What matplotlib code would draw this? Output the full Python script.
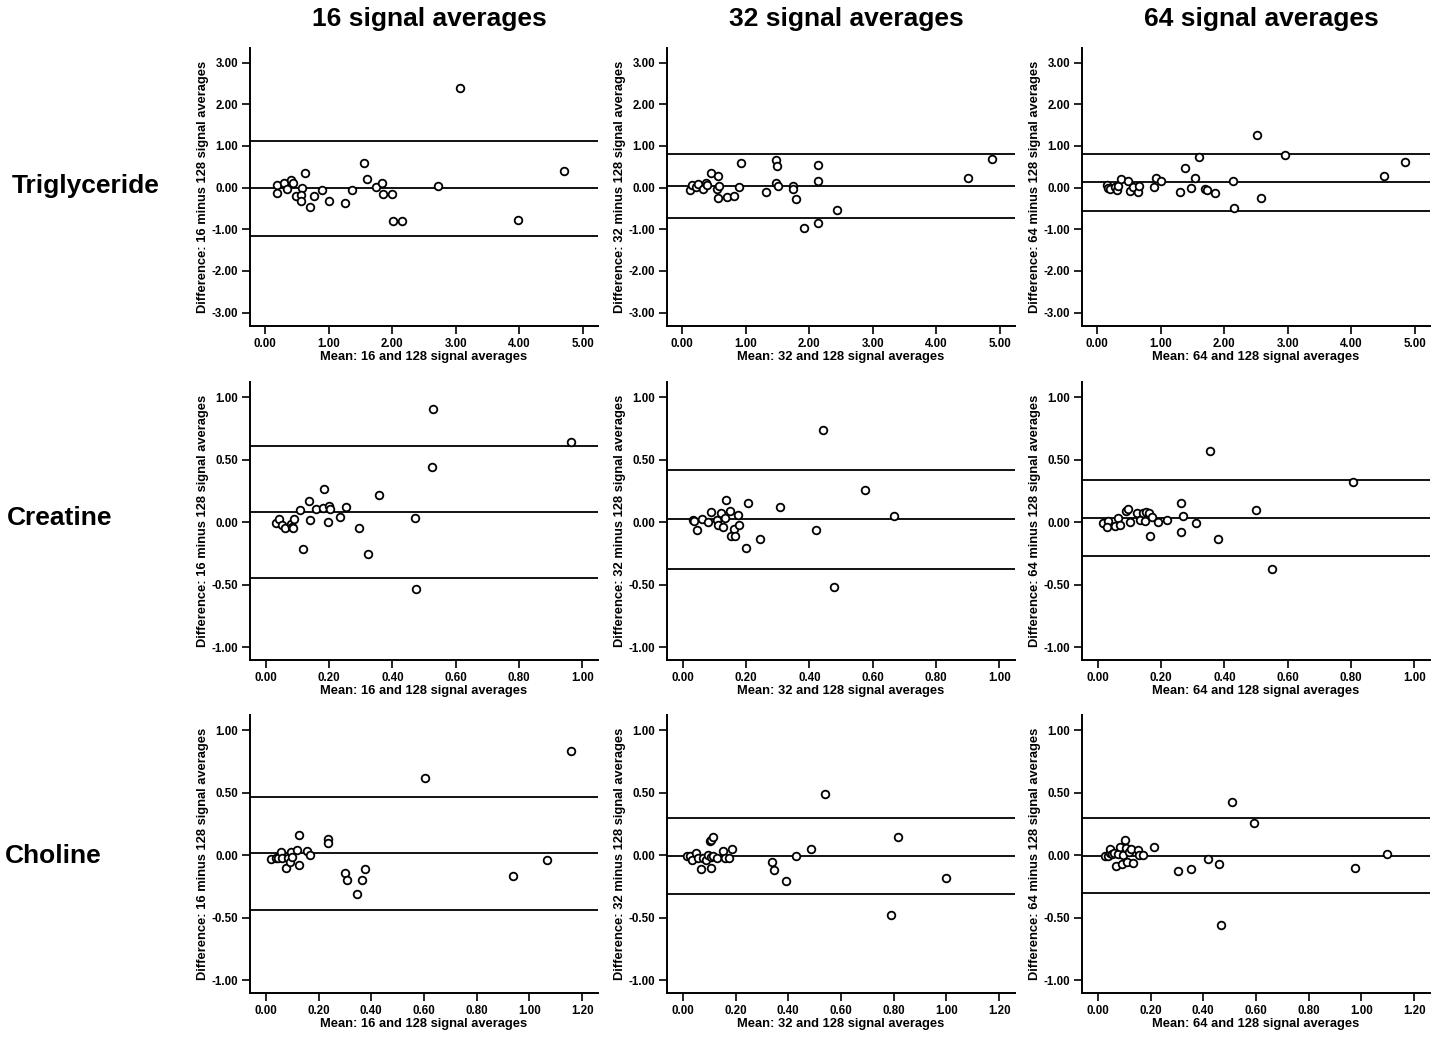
import matplotlib
matplotlib.use("Agg")
import matplotlib.pyplot as plt
from matplotlib.ticker import FormatStrFormatter, MultipleLocator

plt.rcParams['font.family'] = ['Liberation Sans', 'DejaVu Sans']
plt.rcParams['font.weight'] = 'bold'
plt.rcParams['axes.unicode_minus'] = False

metabolites = ['Triglyceride', 'Creatine', 'Choline']
averages = [16, 32, 64]

# Triglyceride
tg16_mean = [0.18, 0.18, 0.30, 0.35, 0.40, 0.43, 0.48, 0.58, 0.57, 0.56, 0.62, 0.71, 0.76, 0.89, 1.01,
             1.26, 1.36, 1.55, 1.61, 1.74, 1.84, 1.86, 2.00, 2.01, 2.16, 2.72, 3.06, 3.98, 4.71]
tg16_diff = [0.06, -0.14, 0.10, -0.04, 0.19, 0.12, -0.21, -0.02, -0.18, -0.32, 0.35, -0.47, -0.19, -0.05, -0.32,
             -0.38, -0.05, 0.59, 0.21, 0.02, 0.12, -0.16, -0.15, -0.79, -0.80, 0.04, 2.38, -0.78, 0.39]
tg16_lines = [1.12, -0.02, -1.15]

tg32_mean = [0.13, 0.15, 0.21, 0.25, 0.32, 0.38, 0.39, 0.45, 0.56, 0.55, 0.58, 0.56, 0.71, 0.81, 0.89, 0.92,
             1.32, 1.47, 1.50, 1.48, 1.51, 1.74, 1.75, 1.79, 1.91, 2.13, 2.14, 2.13, 2.43, 4.50, 4.88]
tg32_diff = [-0.05, 0.06, 0.02, 0.09, -0.03, 0.10, 0.06, 0.34, 0.29, -0.03, 0.05, -0.25, -0.22, -0.21, 0.01, 0.59,
             -0.10, 0.66, 0.52, 0.12, 0.05, 0.05, -0.03, -0.27, -0.98, -0.84, 0.54, 0.17, -0.53, 0.24, 0.68]
tg32_lines = [0.80, 0.04, -0.72]

tg64_mean = [0.16, 0.17, 0.20, 0.28, 0.31, 0.33, 0.38, 0.49, 0.51, 0.56, 0.64, 0.66, 0.89, 0.93, 1.00,
             1.31, 1.38, 1.48, 1.54, 1.61, 1.70, 1.73, 1.86, 2.14, 2.16, 2.51, 2.58, 2.95, 4.52, 4.84]
tg64_diff = [0.07, -0.02, -0.04, 0.02, -0.06, 0.04, 0.20, 0.16, -0.07, 0.02, -0.10, 0.05, 0.01, 0.23, 0.17,
             -0.10, 0.48, -0.01, 0.24, 0.74, -0.03, -0.06, -0.14, 0.17, -0.48, 1.27, -0.24, 0.79, 0.29, 0.61]
tg64_lines = [0.81, 0.135, -0.55]

# Creatine
cr16_mean = [0.032, 0.043, 0.050, 0.061, 0.079, 0.082, 0.087, 0.089, 0.107, 0.117, 0.137, 0.141, 0.160, 0.180,
             0.184, 0.196, 0.199, 0.203, 0.236, 0.255, 0.293, 0.324, 0.359, 0.472, 0.474, 0.525, 0.527, 0.966]
cr16_diff = [-0.007, 0.028, -0.020, -0.046, -0.015, -0.036, -0.049, 0.025, 0.097, -0.216, 0.168, 0.017, 0.102,
             0.113, 0.264, 0.001, 0.126, 0.105, 0.041, 0.121, -0.049, -0.253, 0.216, 0.030, -0.531, 0.441, 0.902, 0.640]
cr16_lines = [0.608, 0.083, -0.444]

cr32_mean = [0.033, 0.035, 0.045, 0.062, 0.080, 0.090, 0.109, 0.112, 0.122, 0.127, 0.134, 0.136, 0.148, 0.152,
             0.162, 0.166, 0.174, 0.179, 0.201, 0.205, 0.245, 0.308, 0.422, 0.444, 0.479, 0.576, 0.669]
cr32_diff = [0.020, 0.007, -0.065, 0.025, 0.004, 0.078, 0.020, -0.025, 0.073, -0.041, 0.036, 0.176, 0.091, -0.110,
             -0.052, -0.107, 0.057, -0.023, -0.205, 0.150, -0.134, 0.123, -0.062, 0.740, -0.515, 0.256, 0.046]
cr32_lines = [0.415, 0.023, -0.375]

cr64_mean = [0.016, 0.032, 0.029, 0.055, 0.064, 0.069, 0.088, 0.096, 0.103, 0.123, 0.132, 0.142, 0.149, 0.153,
             0.161, 0.170, 0.165, 0.189, 0.220, 0.262, 0.264, 0.270, 0.309, 0.356, 0.380, 0.500, 0.549, 0.807]
cr64_diff = [-0.009, 0.007, -0.038, -0.033, 0.033, -0.020, 0.086, 0.107, 0.001, 0.073, 0.017, 0.076, 0.007, 0.078,
             0.070, 0.044, -0.110, 0.001, 0.020, -0.081, 0.150, 0.046, -0.007, 0.566, -0.134, 0.094, -0.377, 0.322]
cr64_lines = [0.338, 0.036, -0.266]

# Choline
ch16_mean = [0.021, 0.038, 0.048, 0.059, 0.063, 0.078, 0.085, 0.092, 0.096, 0.099, 0.119, 0.124, 0.125,
             0.157, 0.167, 0.235, 0.236, 0.299, 0.307, 0.345, 0.364, 0.376, 0.603, 0.937, 1.065, 1.156]
ch16_diff = [-0.033, -0.025, -0.020, 0.028, -0.020, -0.099, -0.020, -0.054, 0.025, -0.015, 0.038, -0.075, 0.158,
             0.036, 0.001, 0.128, 0.099, -0.142, -0.200, -0.306, -0.200, -0.113, 0.616, -0.168, -0.041, 0.833]
ch16_lines = [0.468, 0.015, -0.438]

ch32_mean = [0.017, 0.027, 0.036, 0.051, 0.057, 0.070, 0.078, 0.087, 0.097, 0.106, 0.102, 0.108, 0.115, 0.108,
             0.116, 0.130, 0.151, 0.160, 0.176, 0.187, 0.339, 0.347, 0.393, 0.429, 0.487, 0.540, 0.788, 0.817, 0.999]
ch32_diff = [-0.004, -0.009, -0.039, 0.017, -0.023, -0.108, -0.023, -0.036, 0.004, -0.102, 0.110, 0.124, 0.147,
             -0.017, -0.004, -0.023, 0.031, -0.023, -0.023, 0.049, -0.057, -0.118, -0.203, -0.007, 0.052, 0.487,
             -0.474, 0.147, -0.182]
ch32_lines = [0.296, -0.004, -0.309]

ch64_mean = [0.029, 0.038, 0.045, 0.048, 0.054, 0.061, 0.070, 0.076, 0.085, 0.092, 0.097, 0.102, 0.107, 0.112,
             0.120, 0.126, 0.134, 0.153, 0.157, 0.172, 0.214, 0.306, 0.353, 0.417, 0.461, 0.468, 0.508, 0.591,
             0.976, 1.096]
ch64_diff = [-0.004, -0.009, 0.017, 0.052, 0.009, 0.017, -0.084, 0.009, 0.062, -0.071, 0.004, 0.118, 0.057, -0.054,
             0.025, 0.052, -0.062, 0.039, -0.001, -0.001, 0.062, -0.129, -0.108, -0.031, -0.070, -0.554, 0.424,
             0.257, -0.102, 0.009]
ch64_lines = [0.296, -0.004, -0.301]

panels = [
    [(tg16_mean, tg16_diff, tg16_lines), (tg32_mean, tg32_diff, tg32_lines), (tg64_mean, tg64_diff, tg64_lines)],
    [(cr16_mean, cr16_diff, cr16_lines), (cr32_mean, cr32_diff, cr32_lines), (cr64_mean, cr64_diff, cr64_lines)],
    [(ch16_mean, ch16_diff, ch16_lines), (ch32_mean, ch32_diff, ch32_lines), (ch64_mean, ch64_diff, ch64_lines)],
]

# axis settings per row: xlim, xstep, ylim, ystep
row_axes = [
    ((-0.24, 5.24), 1.0, (-3.32, 3.35), 1.0),
    ((-0.05, 1.05), 0.2, (-1.1, 1.12), 0.5),
    ((-0.06, 1.26), 0.2, (-1.1, 1.12), 0.5),
]

W, H = 1439, 1038
fig = plt.figure(figsize=(W / 100, H / 100), dpi=100)

col_left = [250, 667, 1082]
row_top = [48, 382, 715]
ax_w, ax_h = 348, 278

for r in range(3):
    xlim, xstep, ylim, ystep = row_axes[r]
    for c in range(3):
        ax = fig.add_axes([col_left[c] / W, 1 - (row_top[r] + ax_h) / H, ax_w / W, ax_h / H])
        mean, diff, lines = panels[r][c]
        for v in lines:
            ax.axhline(v, color='black', lw=1.3)
        ax.plot(mean, diff, 'o', mfc='white', mec='black', ms=5.5, mew=1.3, zorder=3)
        ax.set_xlim(xlim)
        ax.set_ylim(ylim)
        ax.xaxis.set_major_locator(MultipleLocator(xstep))
        ax.yaxis.set_major_locator(MultipleLocator(ystep))
        ax.xaxis.set_major_formatter(FormatStrFormatter('%.2f'))
        ax.yaxis.set_major_formatter(FormatStrFormatter('%.2f'))
        for s in ['top', 'right']:
            ax.spines[s].set_visible(False)
        for s in ['left', 'bottom']:
            ax.spines[s].set_linewidth(1.4)
        ax.tick_params(direction='out', length=5.5, width=1.2, labelsize=8.3, pad=3)
        for lab in ax.get_xticklabels() + ax.get_yticklabels():
            lab.set_fontweight('bold')
        n = averages[c]
        ax.set_xlabel('Mean: %d and 128 signal averages' % n, fontsize=9.3, fontweight='bold', labelpad=1)
        ax.set_ylabel('Difference: %d minus 128 signal averages' % n, fontsize=9.3, fontweight='bold', labelpad=2)

# column titles
for c, n in enumerate(averages):
    fig.text((col_left[c] + ax_w / 2 + 5) / W, 1 - 26 / H, '%d signal averages' % n,
             fontsize=19, fontweight='bold', ha='center', va='baseline')

# row labels
row_label_x = [12, 7, 5]
row_label_base = [193, 525, 863]
for r, name in enumerate(metabolites):
    fig.text(row_label_x[r] / W, 1 - row_label_base[r] / H, name, fontsize=19, fontweight='bold',
             ha='left', va='baseline')

fig.savefig('out.png', dpi=100, facecolor='white')
